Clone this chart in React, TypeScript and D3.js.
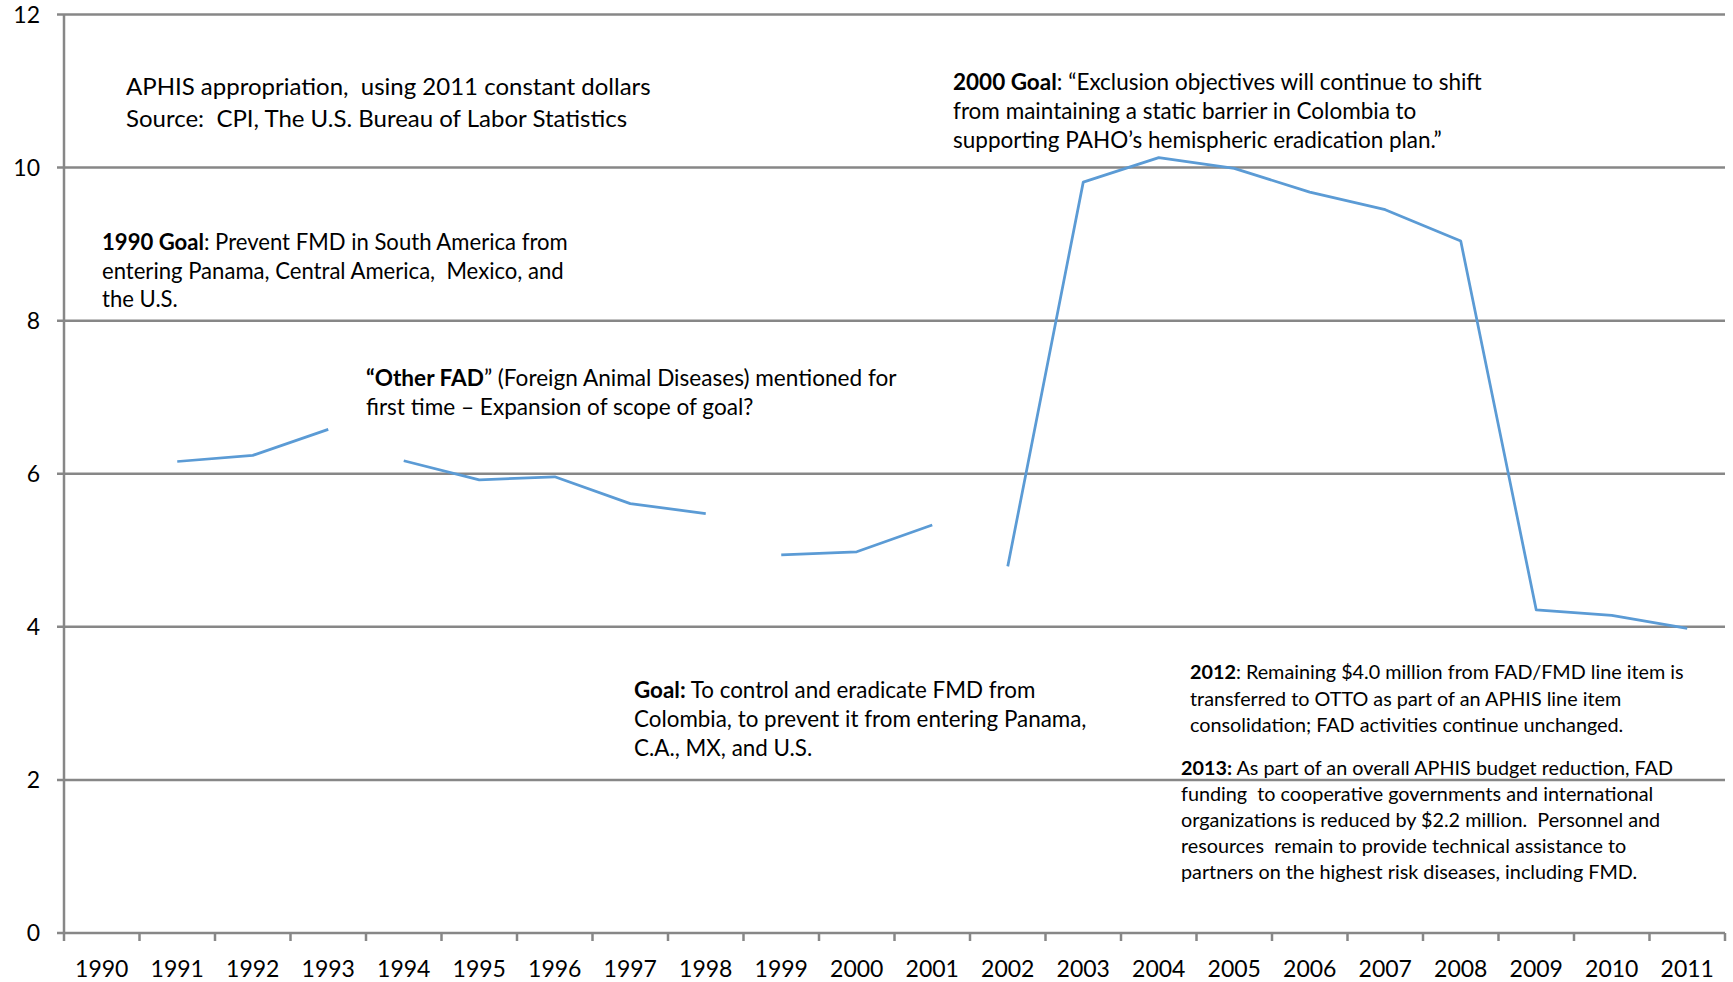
import React, { useEffect, useRef } from 'react';
import * as d3 from 'd3';

const years = ['1990', '1991', '1992', '1993', '1994', '1995', '1996', '1997', '1998', '1999', '2000',
    '2001', '2002', '2003', '2004', '2005', '2006', '2007', '2008', '2009', '2010', '2011'];

// APHIS FAD/FMD appropriation, millions of 2011 dollars
const appropriation: (number | null)[] = [null, 6.16, 6.24, 6.58, 6.17, 5.92, 5.96, 5.61, 5.48, 4.94, 4.98,
    5.33, 4.79, 9.81, 10.13, 9.99, 9.68, 9.45, 9.04, 4.22, 4.15, 3.98];

// the line is broken into separate pieces in the original
const segments: [string, string][] = [['1991', '1993'], ['1994', '1998'], ['1999', '2001'], ['2002', '2011']];

const yTicks = [0, 2, 4, 6, 8, 10, 12];

type Run = { t: string; b?: boolean };

const noteSource: Run[][] = [
    [{ t: 'APHIS appropriation,  using 2011 constant dollars' }],
    [{ t: 'Source:  CPI, The U.S. Bureau of Labor Statistics' }],
];
const note1990: Run[][] = [
    [{ t: '1990 Goal', b: true }, { t: ': Prevent FMD in South America from' }],
    [{ t: 'entering Panama, Central America,  Mexico, and' }],
    [{ t: 'the U.S.' }],
];
const noteOtherFad: Run[][] = [
    [{ t: '“Other FAD', b: true }, { t: '” (Foreign Animal Diseases) mentioned for' }],
    [{ t: 'first time – Expansion of scope of goal?' }],
];
const note2000: Run[][] = [
    [{ t: '2000 Goal', b: true }, { t: ': “Exclusion objectives will continue to shift' }],
    [{ t: 'from maintaining a static barrier in Colombia to' }],
    [{ t: 'supporting PAHO’s hemispheric eradication plan.”' }],
];
const noteColombia: Run[][] = [
    [{ t: 'Goal:', b: true }, { t: ' To control and eradicate FMD from' }],
    [{ t: 'Colombia, to prevent it from entering Panama,' }],
    [{ t: 'C.A., MX, and U.S.' }],
];
const note2012: Run[][] = [
    [{ t: '2012', b: true }, { t: ': Remaining $4.0 million from FAD/FMD line item is' }],
    [{ t: 'transferred to OTTO as part of an APHIS line item' }],
    [{ t: 'consolidation; FAD activities continue unchanged.' }],
];
const note2013: Run[][] = [
    [{ t: '2013:', b: true }, { t: ' As part of an overall APHIS budget reduction, FAD' }],
    [{ t: 'funding  to cooperative governments and international' }],
    [{ t: 'organizations is reduced by $2.2 million.  Personnel and' }],
    [{ t: 'resources  remain to provide technical assistance to' }],
    [{ t: 'partners on the highest risk diseases, including FMD.' }],
];

const width = 1733;
const height = 982;
const margin = { top: 14.5, right: 8, bottom: 49, left: 64 };
const font = 'Lato, Carlito, "Noto Sans", sans-serif';

const App: React.FC = () => {
    const svgRef = useRef<SVGSVGElement | null>(null);

    useEffect(() => {
        const svg = d3.select(svgRef.current);
        svg.selectAll('*').remove();

        const x = d3.scaleBand().domain(years).range([margin.left, width - margin.right]);
        const y = d3.scaleLinear().domain([0, 12]).range([height - margin.bottom, margin.top]);
        const cx = (yr: string) => (x(yr) ?? 0) + x.bandwidth() / 2;

        // gridlines
        svg.append('g')
            .selectAll('line')
            .data(yTicks)
            .enter()
            .append('line')
            .attr('x1', margin.left - 7)
            .attr('x2', width - margin.right)
            .attr('y1', d => y(d))
            .attr('y2', d => y(d))
            .attr('stroke', '#878787')
            .attr('stroke-width', 2.5);

        // y axis line
        svg.append('line')
            .attr('x1', margin.left).attr('x2', margin.left)
            .attr('y1', y(12)).attr('y2', y(0))
            .attr('stroke', '#878787')
            .attr('stroke-width', 2.5);

        // x tick marks at band edges
        const edges = years.map(d => x(d) ?? 0).concat([width - margin.right]);
        svg.append('g')
            .selectAll('line')
            .data(edges)
            .enter()
            .append('line')
            .attr('x1', d => d).attr('x2', d => d)
            .attr('y1', y(0)).attr('y2', y(0) + 8)
            .attr('stroke', '#878787')
            .attr('stroke-width', 2.5);

        // y labels
        svg.append('g')
            .selectAll('text')
            .data(yTicks)
            .enter()
            .append('text')
            .attr('x', 40)
            .attr('y', d => y(d))
            .attr('dy', '0.35em')
            .attr('text-anchor', 'end')
            .attr('font-family', font)
            .attr('font-size', 23)
            .attr('fill', '#000')
            .text(d => d);

        // x labels
        svg.append('g')
            .selectAll('text')
            .data(years)
            .enter()
            .append('text')
            .attr('x', d => cx(d))
            .attr('y', 977)
            .attr('text-anchor', 'middle')
            .attr('font-family', font)
            .attr('font-size', 23)
            .attr('fill', '#000')
            .text(d => d);

        // line pieces
        const points = years.map((yr, i) => ({ yr, v: appropriation[i] }));
        const line = d3.line<{ yr: string; v: number | null }>()
            .defined(d => d.v !== null)
            .x(d => cx(d.yr))
            .y(d => y(d.v as number));

        segments.forEach(([a, b]) => {
            const i0 = years.indexOf(a);
            const i1 = years.indexOf(b);
            svg.append('path')
                .datum(points.slice(i0, i1 + 1))
                .attr('fill', 'none')
                .attr('stroke', '#5b9bd5')
                .attr('stroke-width', 2.75)
                .attr('stroke-linejoin', 'round')
                .attr('d', line);
        });

        // annotations
        const note = (lines: Run[][], x0: number, y0: number, lh: number, size: number) => {
            const t = svg.append('text')
                .attr('font-family', font)
                .attr('font-size', size)
                .attr('fill', '#000')
                .style('white-space', 'pre');
            lines.forEach((runs, i) => {
                const ln = t.append('tspan').attr('x', x0).attr('y', y0 + i * lh);
                runs.forEach(r => {
                    ln.append('tspan')
                        .attr('font-weight', r.b ? 'bold' : 'normal')
                        .text(r.t);
                });
            });
        };

        note(noteSource, 126, 95, 32, 24);
        note(note1990, 102, 250, 28.5, 22.1);
        note(noteOtherFad, 366, 386, 29, 22.6);
        note(note2000, 953, 90, 29, 22.5);
        note(noteColombia, 634, 698, 29, 22.4);
        note(note2012, 1190, 679, 26.5, 19.8);
        note(note2013, 1181, 775, 26, 19.8);
    }, []);

    return (
        <svg
            ref={svgRef}
            width={width}
            height={height}
            style={{ position: 'absolute', left: 0, top: 0, background: '#fff' }}
        />
    );
};

export default App;
